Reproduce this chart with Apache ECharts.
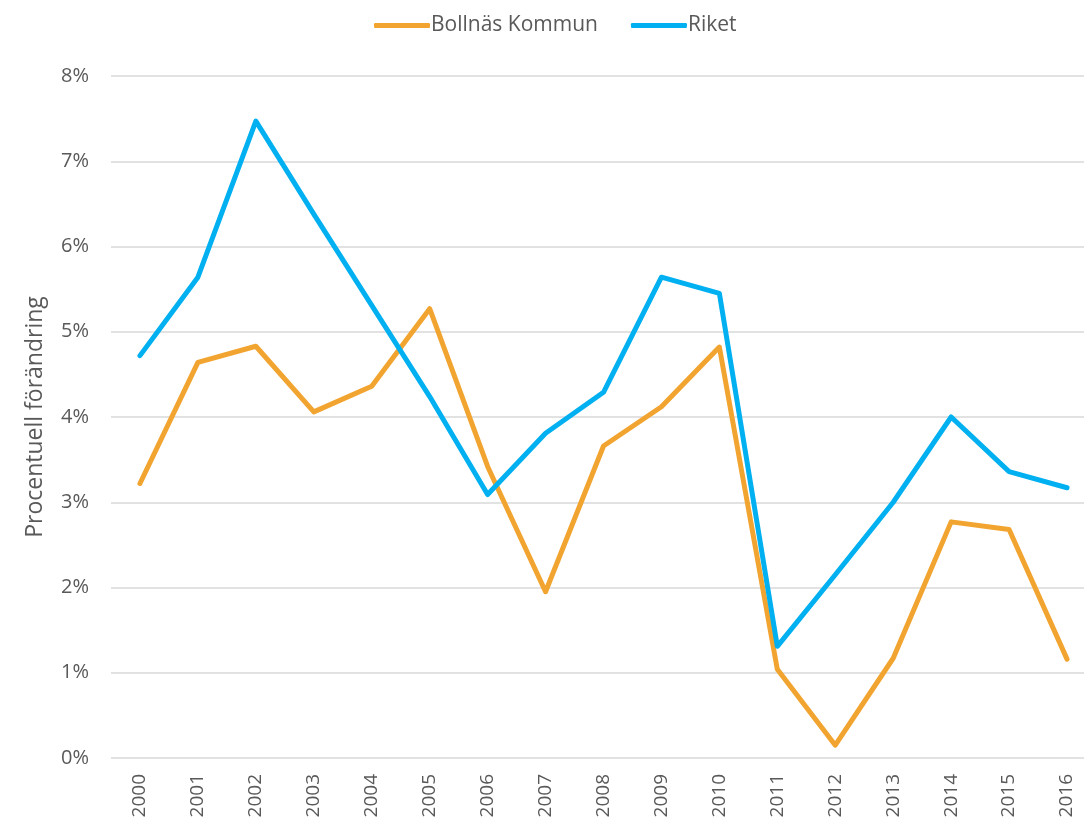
<!DOCTYPE html>
<html>
<head>
<meta charset="utf-8">
<script src="https://cdn.jsdelivr.net/npm/echarts@6/dist/echarts.min.js"></script>
<style>
html, body { margin: 0; padding: 0; background: #fff; overflow: hidden; }
/* plottytan går lite utanför bildens högerkant, som i originalet */
#chart { width: 1096px; height: 822px; }
</style>
</head>
<body>
<div id="chart"></div>
<script>
// årtal och procentuell förändring
var years = ['2000', '2001', '2002', '2003', '2004', '2005', '2006', '2007', '2008',
	'2009', '2010', '2011', '2012', '2013', '2014', '2015', '2016'];
var bollnas = [3.22, 4.64, 4.83, 4.06, 4.36, 5.27, 3.42, 1.95, 3.66,
	4.12, 4.82, 1.04, 0.15, 1.17, 2.77, 2.68, 1.16];
var riket = [4.72, 5.64, 7.47, 6.38, 5.31, 4.24, 3.09, 3.81, 4.29,
	5.64, 5.45, 1.31, 2.15, 3.00, 4.00, 3.36, 3.17];
var seriesNames = ['Bollnäs Kommun', 'Riket'];

var font = '"Open Sans", Lato, sans-serif';
var chart = echarts.init(document.getElementById('chart'));

chart.setOption({
	animation: false,
	color: ['#F2A430', '#00B0F0'],
	legend: {
		top: 10,
		left: 369,
		itemWidth: 56,
		itemHeight: 5,
		itemGap: 33,
		icon: 'roundRect',
		textStyle: {
			color: '#595959',
			fontSize: 21,
			fontFamily: font,
			padding: [0, 0, 0, -4]
		},
		data: seriesNames
	},
	grid: {
		left: 111,
		right: 0,
		top: 76,
		bottom: 64
	},
	xAxis: {
		type: 'category',
		boundaryGap: true,
		data: years,
		axisLine: { show: false },
		axisTick: { show: false },
		axisLabel: {
			rotate: 90,
			margin: 16,
			color: '#595959',
			fontSize: 19,
			fontFamily: font
		}
	},
	yAxis: {
		type: 'value',
		min: 0,
		max: 8,
		interval: 1,
		name: 'Procentuell förändring',
		nameLocation: 'middle',
		nameGap: 64,
		nameTextStyle: {
			color: '#595959',
			fontSize: 23,
			fontFamily: font
		},
		axisLine: { show: false },
		axisTick: { show: false },
		axisLabel: {
			margin: 22,
			color: '#595959',
			fontSize: 20,
			fontFamily: font,
			formatter: '{value}%'
		},
		splitLine: {
			lineStyle: { color: '#D9D9D9', width: 1.5 }
		}
	},
	series: [
		{
			name: seriesNames[0],
			type: 'line',
			data: bollnas,
			symbol: 'none',
			lineStyle: { width: 5, cap: 'round', join: 'round' }
		},
		{
			name: seriesNames[1],
			type: 'line',
			data: riket,
			symbol: 'none',
			lineStyle: { width: 5, cap: 'round', join: 'round' }
		}
	]
});
</script>
</body>
</html>
